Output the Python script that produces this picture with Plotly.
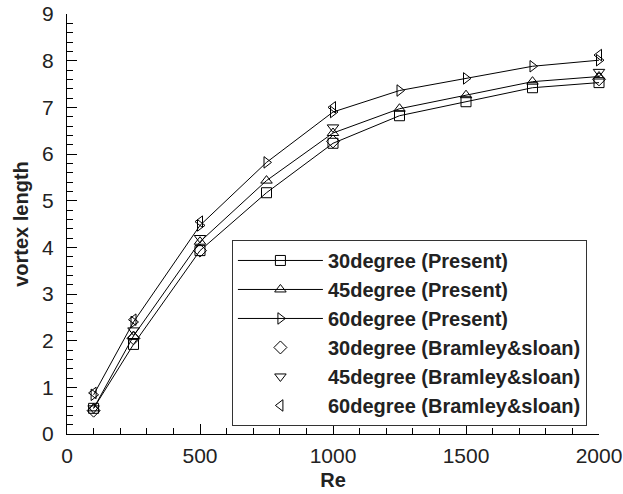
import plotly.graph_objects as go

re_present = [100, 250, 500, 750, 1000, 1250, 1500, 1750, 2000]
present_30 = [0.55, 1.92, 3.93, 5.17, 6.23, 6.82, 7.12, 7.42, 7.53]
present_45 = [0.55, 2.10, 4.12, 5.43, 6.45, 6.97, 7.26, 7.55, 7.66]
present_60 = [0.84, 2.40, 4.47, 5.82, 6.90, 7.36, 7.62, 7.88, 8.01]

re_bramley = [100, 250, 500, 1000, 2000]
bramley_30 = [0.50, 2.05, 3.93, 6.27, 7.60]
bramley_45 = [0.55, 2.22, 4.20, 6.57, 7.76]
bramley_60 = [0.88, 2.45, 4.55, 7.00, 8.12]

x_ticks = [0, 500, 1000, 1500, 2000]
y_ticks = [0, 1, 2, 3, 4, 5, 6, 7, 8, 9]

FONT = "Liberation Sans, Arial, Helvetica"

fig = go.Figure()

present = [
    ("30degree (Present)", present_30, "square-open"),
    ("45degree (Present)", present_45, "triangle-up-open"),
    ("60degree (Present)", present_60, "triangle-right-open"),
]
for name, ys, sym in present:
    fig.add_trace(go.Scatter(
        x=re_present, y=ys, name=name, mode="lines+markers", cliponaxis=False,
        line=dict(color="black", width=1),
        marker=dict(symbol=sym, size=10, color="black", line=dict(color="black", width=1)),
    ))

bramley = [
    ("30degree (Bramley&sloan)", bramley_30, "diamond-open"),
    ("45degree (Bramley&sloan)", bramley_45, "triangle-down-open"),
    ("60degree (Bramley&sloan)", bramley_60, "triangle-left-open"),
]
for name, ys, sym in bramley:
    fig.add_trace(go.Scatter(
        x=re_bramley, y=ys, name=name, mode="markers", cliponaxis=False,
        marker=dict(symbol=sym, size=10, color="black", line=dict(color="black", width=1)),
    ))

axis_common = dict(
    showgrid=False, zeroline=False, showline=True, linecolor="black", linewidth=1,
    ticks="inside", ticklen=10, tickcolor="black", tickwidth=1,
    tickfont=dict(family=FONT, size=21, color="#222"),
    mirror=False, automargin=False,
)

fig.update_layout(
    width=623, height=494,
    margin=dict(l=67, r=24, t=14, b=60),
    paper_bgcolor="white", plot_bgcolor="white",
    showlegend=True,
    legend=dict(
        x=0.31, y=0.462, xanchor="left", yanchor="top",
        bordercolor="#333", borderwidth=1, bgcolor="white",
        font=dict(family=FONT, size=20, color="#222", weight="bold"),
        itemwidth=85, tracegroupgap=0,
    ),
    xaxis=dict(
        range=[0, 2000], tickvals=x_ticks, ticktext=[str(v) for v in x_ticks],
        minor=dict(ticks="inside", ticklen=6, tickcolor="black", dtick=100, showgrid=False),
        title=dict(text="<b>Re</b>", font=dict(family=FONT, size=20, color="#222"), standoff=6),
        ticklabelstandoff=3,
        **axis_common,
    ),
    yaxis=dict(
        range=[0, 9], tickvals=y_ticks, ticktext=[str(v) for v in y_ticks],
        minor=dict(ticks="inside", ticklen=6, tickcolor="black", dtick=0.2, showgrid=False),
        title=dict(text="<b>vortex length</b>", font=dict(family=FONT, size=20, color="#222"), standoff=8),
        ticklabelstandoff=8,
        **axis_common,
    ),
)

fig.write_html("out.html")
